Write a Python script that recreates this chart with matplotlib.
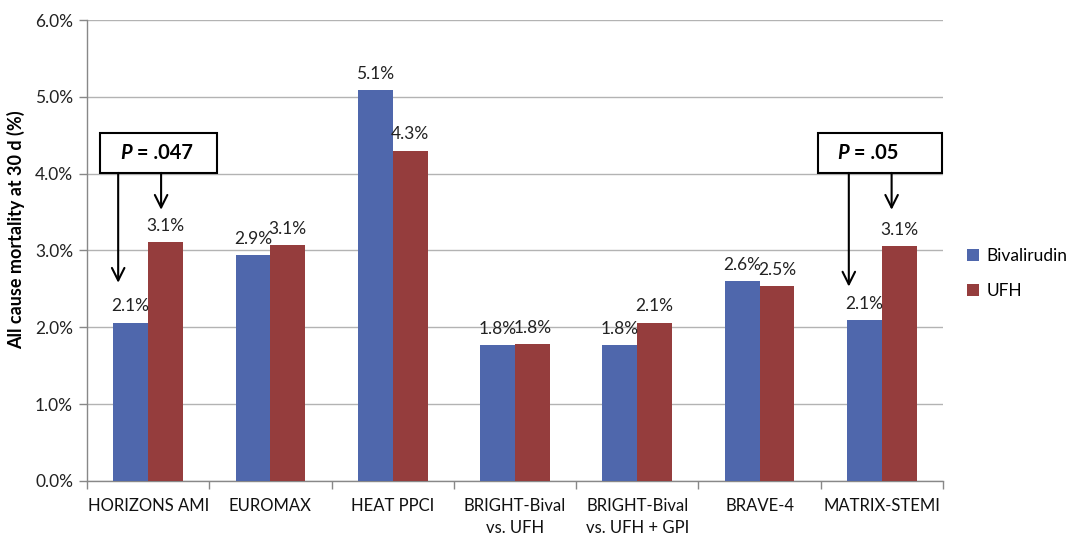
import matplotlib
matplotlib.use("Agg")
import matplotlib.pyplot as plt
import numpy as np

# Trials and 30-day all-cause mortality (%)
trials = ["HORIZONS AMI", "EUROMAX", "HEAT PPCI", "BRIGHT-Bival\nvs. UFH",
          "BRIGHT-Bival\nvs. UFH + GPI", "BRAVE-4", "MATRIX-STEMI"]
bivalirudin = [2.06, 2.94, 5.09, 1.77, 1.77, 2.60, 2.09]
ufh = [3.11, 3.07, 4.30, 1.78, 2.06, 2.54, 3.06]
series_names = ["Bivalirudin", "UFH"]
y_ticks = [0.0, 1.0, 2.0, 3.0, 4.0, 5.0, 6.0]

# Significance callouts: trial index and P value text
p_trials = [0, 6]
p_values = [".047", ".05"]

BLUE = "#4F67AC"
RED = "#953D3D"
GRID = "#B3B3B3"
AXIS = "#888888"

plt.rcParams["font.family"] = ["Lato", "DejaVu Sans"]

fig = plt.figure(figsize=(10.74, 5.34), dpi=100)
ax = fig.add_axes([0.081, 0.0993, 0.797, 0.8632])

x = np.arange(len(trials))
w = 0.285
bars_b = ax.bar(x - w / 2, bivalirudin, w, color=BLUE, label=series_names[0], zorder=3)
bars_u = ax.bar(x + w / 2, ufh, w, color=RED, label=series_names[1], zorder=3)

for bars, vals in ((bars_b, bivalirudin), (bars_u, ufh)):
    for b, v in zip(bars, vals):
        ax.annotate(f"{v:.1f}%", (b.get_x() + b.get_width() / 2, v),
                    xytext=(0, 6), textcoords="offset points",
                    ha="center", va="bottom", fontsize=12.5, color="#222222")

ax.set_xlim(-0.5, len(trials) - 0.5)
ax.set_ylim(0, 6.0)
ax.set_yticks(y_ticks)
ax.set_yticklabels([f"{t:.1f}%" for t in y_ticks], fontsize=12.5, color="#222222")
ax.yaxis.grid(True, color=GRID, linewidth=1.0, zorder=0)
ax.set_axisbelow(True)

# category labels centred, tick marks on the group boundaries
ax.set_xticks(x)
ax.set_xticklabels(trials, fontsize=12, color="#111111", linespacing=1.5)
ax.tick_params(axis="x", length=0, pad=12)
ax.set_xticks(np.arange(len(trials) + 1) - 0.5, minor=True)
ax.tick_params(axis="x", which="minor", length=6, color=AXIS, width=1)
ax.tick_params(axis="y", length=6, color=AXIS, width=1, pad=4)

for s in ("top", "right"):
    ax.spines[s].set_visible(False)
for s in ("left", "bottom"):
    ax.spines[s].set_color(AXIS)
    ax.spines[s].set_linewidth(1.0)

ax.set_ylabel("All cause mortality at 30 d (%)", fontsize=13, fontweight="bold",
              labelpad=8)
ax.yaxis.set_label_coords(-0.072, 0.545)

# P-value boxes with arrows to both bars
box_specs = {
    0: dict(box=(-0.39, 0.56), text_x=0.065, arrows=((-0.245, 2.58), (0.106, 3.53))),
    6: dict(box=(5.48, 6.49), text_x=5.886, arrows=((5.73, 2.53), (6.08, 3.53))),
}
box_lo, box_hi = 4.01, 4.53
pending = []
for idx, ptxt in zip(p_trials, p_values):
    spec = box_specs[idx]
    bl, br = spec["box"]
    ax.add_patch(plt.Rectangle((bl, box_lo), br - bl, box_hi - box_lo,
                               facecolor="white", edgecolor="black",
                               linewidth=1.5, zorder=5, clip_on=False))
    cy = (box_lo + box_hi) / 2
    t1 = ax.annotate("P", (spec["text_x"], cy), xytext=(0, 0),
                     textcoords="offset points", style="italic",
                     fontweight="bold", fontsize=14.5, ha="left", va="center",
                     zorder=6)
    t2 = ax.annotate(f" = {ptxt}", (spec["text_x"], cy), xytext=(0, 0),
                     textcoords="offset points", fontweight="bold",
                     fontsize=14.5, ha="left", va="center", zorder=6)
    pending.append((t1, t2))
    for xa, tip in spec["arrows"]:
        ax.annotate("", xy=(xa, tip), xytext=(xa, box_lo),
                    arrowprops=dict(arrowstyle="->,head_length=0.9,head_width=0.45",
                                    color="black", lw=1.5, shrinkA=0, shrinkB=0),
                    zorder=6)

# centre each "P = value" pair on its anchor
fig.canvas.draw()
renderer = fig.canvas.get_renderer()
px2pt = 72.0 / fig.dpi
for t1, t2 in pending:
    w1 = t1.get_window_extent(renderer).width
    w2 = t2.get_window_extent(renderer).width
    start = -(w1 + w2) / 2
    t1.set_position((start * px2pt, 0))
    t2.set_position(((start + w1) * px2pt, 0))

ax.legend(loc="center left", bbox_to_anchor=(1.01, 0.45), frameon=False,
          fontsize=12.5, handlelength=0.7, handleheight=0.7,
          labelspacing=1.05, handletextpad=0.4)

fig.savefig("out.png", dpi=100, facecolor="white")
